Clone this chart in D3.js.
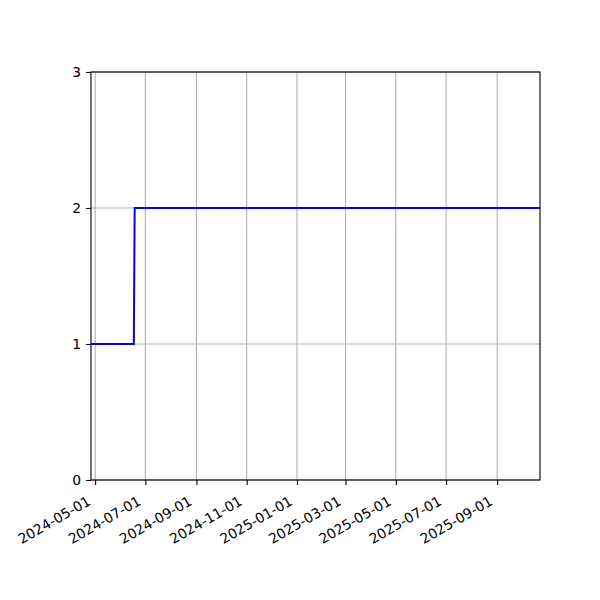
<!DOCTYPE html>
<html>
<head>
<meta charset="utf-8">
<script src="https://cdn.jsdelivr.net/npm/d3@7"></script>
<style>
  body { margin: 0; background: #fff; }
  text { font-family: "DejaVu Sans", sans-serif; }
</style>
</head>
<body>
<div id="chart"></div>
<script>
// data
var dates = ["2024-04-26", "2024-06-17", "2024-06-18", "2025-10-23"];
var values = [1, 1, 2, 2];
var yTicks = [0, 1, 2, 3];
var xTickLabels = ["2024-05-01", "2024-07-01", "2024-09-01", "2024-11-01", "2025-01-01",
                   "2025-03-01", "2025-05-01", "2025-07-01", "2025-09-01"];

var parse = d3.timeParse("%Y-%m-%d");
var points = dates.map(function (d, i) { return { date: parse(d), value: values[i] }; });

var width = 600, height = 600;
var margin = { left: 91, right: 540, top: 72, bottom: 480 };

var svg = d3.select("#chart")
    .append("svg")
    .attr("width", width)
    .attr("height", height);

var x = d3.scaleTime()
    .domain(d3.extent(points, function (d) { return d.date; }))
    .range([margin.left, margin.right]);

var y = d3.scaleLinear()
    .domain([0, 3])
    .range([margin.bottom, margin.top]);

var xTicks = xTickLabels.map(parse);

// grid
svg.append("g")
    .selectAll("line")
    .data(xTicks)
    .enter()
    .append("line")
    .attr("x1", function (d) { return x(d); })
    .attr("x2", function (d) { return x(d); })
    .attr("y1", margin.top)
    .attr("y2", margin.bottom)
    .style("stroke", "#b0b0b0")
    .style("stroke-width", 1.1);

svg.append("g")
    .selectAll("line")
    .data(yTicks)
    .enter()
    .append("line")
    .attr("x1", margin.left)
    .attr("x2", margin.right)
    .attr("y1", function (d) { return y(d); })
    .attr("y2", function (d) { return y(d); })
    .style("stroke", "#b0b0b0")
    .style("stroke-width", 1.1);

// line
var line = d3.line()
    .x(function (d) { return x(d.date); })
    .y(function (d) { return y(d.value); });

svg.append("path")
    .datum(points)
    .attr("d", line)
    .style("fill", "none")
    .style("stroke", "#0000ff")
    .style("stroke-width", 2);

// axes
var xAxis = svg.append("g")
    .attr("transform", "translate(0," + margin.bottom + ")")
    .call(d3.axisBottom(x).tickValues(xTicks).tickSize(4.9)
        .tickFormat(d3.timeFormat("%Y-%m-%d")));

xAxis.selectAll("text")
    .style("font-size", "13.9px")
    .style("fill", "#000")
    .attr("text-anchor", "end")
    .attr("x", 0)
    .attr("y", 0)
    .attr("dy", 0)
    .attr("transform", "translate(-4,24) rotate(-30)");

var yAxis = svg.append("g")
    .attr("transform", "translate(" + margin.left + ",0)")
    .call(d3.axisLeft(y).tickValues(yTicks).tickSize(4.9).tickPadding(5)
        .tickFormat(d3.format("d")));

yAxis.selectAll("text")
    .style("font-size", "13.9px")
    .style("fill", "#000");

svg.selectAll(".domain").remove();
svg.selectAll(".tick line").style("stroke", "#000").style("stroke-width", 1.1);

// frame
svg.append("rect")
    .attr("x", margin.left)
    .attr("y", margin.top)
    .attr("width", margin.right - margin.left)
    .attr("height", margin.bottom - margin.top)
    .style("fill", "none")
    .style("stroke", "#000")
    .style("stroke-width", 1.1);
</script>
</body>
</html>
